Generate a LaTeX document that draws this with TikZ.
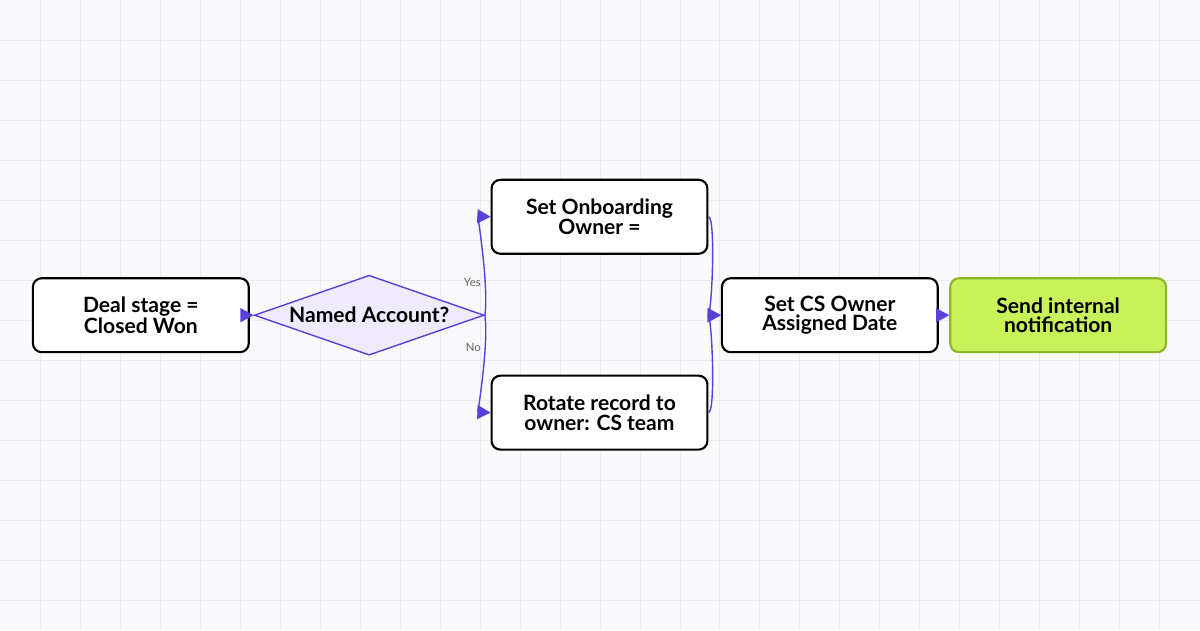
\documentclass[tikz,border=0pt]{standalone}
\usepackage{fontspec}
\setmainfont{Lato}
\usetikzlibrary{arrows.meta,shapes.geometric}
\definecolor{bgc}{HTML}{FAFAFC}
\definecolor{gridc}{HTML}{ECEBF5}
\definecolor{flow}{HTML}{5B3FD9}
\definecolor{dfill}{HTML}{EFEAFC}
\definecolor{lime}{HTML}{C9F25A}
\definecolor{limed}{HTML}{8DB52A}
\newcommand{\pxu}{*0.02cm}
\tikzset{
  box/.style={rectangle,rounded corners=5pt,draw=black,very thick,fill=white,
    minimum width=216\pxu,minimum height=74\pxu,align=center,inner sep=0pt,
    font=\fontsize{12}{11}\selectfont\bfseries},
  flowline/.style={draw=flow,thick,-{Triangle[length=7.5pt,width=8pt]}},
  lbl/.style={font=\fontsize{6.5}{7}\selectfont,text=black!60}
}
\begin{document}
\begin{tikzpicture}[x=0.02cm,y=-0.02cm]
  \fill[bgc] (0,0) rectangle (1200,630);
  \foreach \gx in {40,80,...,1160} \draw[gridc,line width=0.5pt] (\gx,0) -- (\gx,630);
  \foreach \gy in {40,80,...,600} \draw[gridc,line width=0.5pt] (0,\gy) -- (1200,\gy);
  \useasboundingbox (0,0) rectangle (1200,630);

  \node[box] (deal) at (140.5,315) {Deal stage =\\Closed Won};
  \node[diamond,aspect=2.9,draw=flow,thick,fill=dfill,inner sep=0pt,
        minimum width=230\pxu,minimum height=80\pxu,
        font=\fontsize{12}{11}\selectfont\bfseries] (named) at (369,315) {Named Account?};
  \node[box] (onb) at (599.5,216.5) {Set Onboarding\\Owner =};
  \node[box] (rot) at (599.5,412.5) {Rotate record to\\owner: CS team};
  \node[box] (date) at (830,315) {Set CS Owner\\Assigned Date};
  \node[box,draw=limed,fill=lime] (notify) at (1058.5,315) {Send internal\\notification};

  \path[flowline] (deal.east) -- (named.west);
  \path[flowline] (named.east) .. controls (489,290) and (478,216) .. node[lbl,pos=0.3,left=-1pt] {Yes} (onb.west);
  \path[flowline] (named.east) .. controls (489,340) and (478,412) .. node[lbl,pos=0.3,left=-1pt] {No} (rot.west);
  \path[flowline] (onb.east) .. controls (716,216) and (712,315) .. (date.west);
  \path[flowline] (rot.east) .. controls (716,412) and (712,315) .. (date.west);
  \path[flowline] (date.east) -- (notify.west);
\end{tikzpicture}
\end{document}
